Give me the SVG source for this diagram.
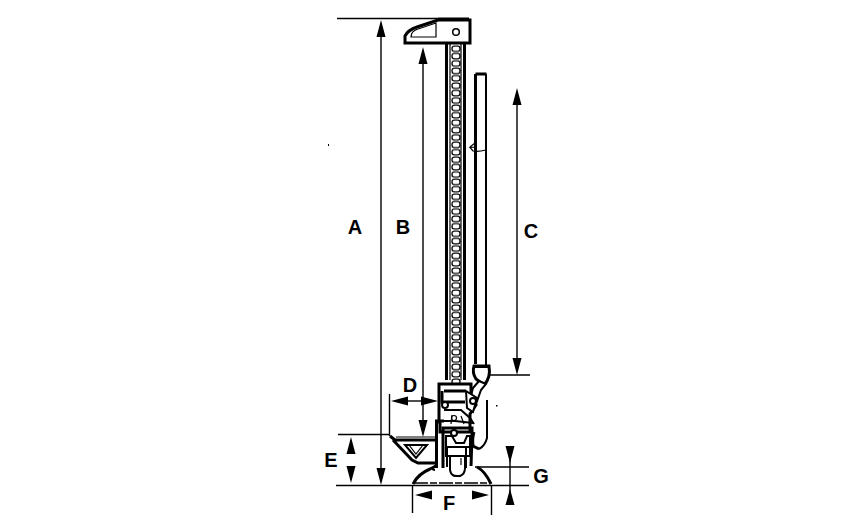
<svg xmlns="http://www.w3.org/2000/svg" width="860" height="520" viewBox="0 0 860 520">
<style>
text{font-family:"Liberation Sans",Arial,sans-serif;font-size:20px;font-weight:700;fill:#000;text-anchor:middle}
.d{fill:none;stroke:#000;stroke-width:1.4}
.t{fill:none;stroke:#000;stroke-width:3}
.m{fill:none;stroke:#000;stroke-width:2}
.s{fill:none;stroke:#000;stroke-width:1.2}
.w{fill:#fff;stroke:#000;stroke-width:2}
</style>
<defs>
<marker id="a" markerUnits="userSpaceOnUse" markerWidth="17" markerHeight="10" refX="0" refY="5" orient="auto-start-reverse" viewBox="0 0 17 10"><path d="M17 5L0 .5V9.500Z" fill="#000"/></marker>
<pattern id="holes" x="450" y="45" width="12" height="7.4" patternUnits="userSpaceOnUse"><rect x="2" y="1" width="8" height="5.400" rx="2.400" fill="none" stroke="#000" stroke-width="1.300"/></pattern>
</defs>
<rect width="860" height="520" fill="#fff"/>
<g id="jack">
<rect x="450" y="45" width="12" height="340" fill="url(#holes)"/>
<path class="t" d="M446.500 42V380M464.500 42V380"/>
<path class="s" d="M450 44V380M461 44V380"/>
<path d="M405 43V36Q408 30 417 27L438 20H470V43H405Z" fill="#fff" stroke="#000" stroke-width="3"/>
<path class="s" d="M411 37Q411 31 418 29L436 23V37Z"/>
<path class="t" d="M438 19H469"/>
<circle cx="456" cy="32" r="3.300" fill="#fff" stroke="#000" stroke-width="1.500"/>
<path class="t" d="M475.500 74V364M475.500 74H486.500"/>
<path class="m" d="M486 74V365"/>
<path class="s" d="M477 147L470 147.500L473 151Q478 152 486 150M470 147L475 143"/>
<path class="t" d="M474 366Q472 373 476 379L484 385Q491 378 489 366Z"/>
<path class="m" d="M474 367H488"/>
<path class="w" d="M479 381L473 388L470 399L476 404L481 390L486 384Z"/>
<path class="t" d="M439 384H471V400L476 405L470 414V432H440V422H439Z" fill="#fff"/>
<path class="t" d="M444 391H465M442 391V402H465"/>
<path class="w" d="M466 391L477 398L473 412L467 408Z"/>
<circle cx="473" cy="401" r="3" class="w"/>
<circle cx="445" cy="405" r="3" class="w"/>
<path class="m" d="M444 410H461L470 418L474 424"/>
<path class="s" d="M452 415L451 424M461 416L464 424"/>
<circle cx="454" cy="418" r="2.500" class="s"/>
<path class="m" d="M440 421H455L473 423"/>
<path class="t" d="M436.500 468V421H444"/>
<path class="t" d="M443 468V428H472V443"/>
<circle cx="454" cy="433" r="3" class="w"/>
<path class="m" d="M446 436H452L456 443H464L467 436H470V456H446Z"/>
<path class="m" d="M445 447H472M447 446V467M466 446V468"/>
<path class="t" d="M472 436L471 466"/>
<path class="t" d="M474 432Q472 438 473 446L479 449"/>
<path class="m" d="M479 449Q485 446 487 438V400"/>
<path class="m" d="M450 456V470Q451 476 456 476H460Q465 474 465 468V456"/>
<path class="s" d="M461 458V465"/>
<path class="t" d="M413 484Q418 474 430 469L436 466M477 467Q485 471 491 484"/>
<path class="m" d="M436 465Q430 470 435 470"/>
<path fill="none" stroke="#000" stroke-width="1.300" stroke-dasharray="14 2 7 2" d="M414 483H490"/>
<path class="t" d="M390 436L395 440H436M393 440L412 460L418 463H436"/>
<path class="m" d="M405 445H427L416 458Z"/>
<path class="s" d="M409 445L416 454L423 445M396 437H436"/>
</g>
<g id="connectors">
<path class="d" d="M337 18.500H438M490 375H530M338 434.500H390M336 485.500H529M475 467H529M389.500 394V436M412.500 485V513M491.500 485V515"/>
<path class="d" d="M381 37V468" marker-start="url(#a)" marker-end="url(#a)"/>
<path class="d" d="M423 64V420" marker-start="url(#a)" marker-end="url(#a)"/>
<path class="d" d="M517 105V358" marker-start="url(#a)" marker-end="url(#a)"/>
<path class="d" d="M408 401H421" marker-start="url(#a)" marker-end="url(#a)"/>
<path d="M351 454V466" fill="none" marker-start="url(#a)" marker-end="url(#a)"/>
<path d="M432 495H472" fill="none" marker-start="url(#a)" marker-end="url(#a)"/>
<path class="d" d="M510 446V505"/>
<path d="M505.500 446H514.500L510 463ZM505.500 505H514.500L510 489Z" fill="#000"/>
</g>
<g id="labels">
<text x="355" y="234">A</text>
<text x="403" y="234">B</text>
<text x="531" y="238">C</text>
<text x="410" y="392">D</text>
<text x="331" y="467">E</text>
<text x="449" y="510">F</text>
<text x="541" y="483">G</text>
</g>
<rect x="328" y="144" width="1" height="2" fill="#000"/>
<rect x="496" y="405" width="1.500" height="1.500" fill="#000"/>
</svg>
